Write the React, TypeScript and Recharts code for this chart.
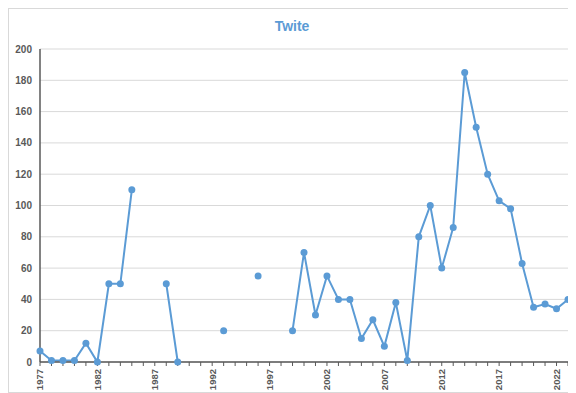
import { LineChart, Line, XAxis, YAxis, CartesianGrid } from 'recharts';

const years = [
  1977, 1978, 1979, 1980, 1981, 1982, 1983, 1984, 1985, 1986, 1987, 1988,
  1989, 1990, 1991, 1992, 1993, 1994, 1995, 1996, 1997, 1998, 1999, 2000,
  2001, 2002, 2003, 2004, 2005, 2006, 2007, 2008, 2009, 2010, 2011, 2012,
  2013, 2014, 2015, 2016, 2017, 2018, 2019, 2020, 2021, 2022, 2023,
];

const counts: (number | null)[] = [
  7, 1, 1, 1, 12, 0, 50, 50, 110, null, null, 50,
  0, null, null, null, 20, null, null, 55, null, null, 20, 70,
  30, 55, 40, 40, 15, 27, 10, 38, 1, 80, 100, 60,
  86, 185, 150, 120, 103, 98, 63, 35, 37, 34, 40,
];

const yTicks = [0, 20, 40, 60, 80, 100, 120, 140, 160, 180, 200];

const data = years.map((y, i) => ({ year: y, count: counts[i] }));

const YearTick = (props: any) => {
  const { x, y, payload } = props;
  if ((payload.value - 1977) % 5 !== 0) return null;
  return (
    <g transform={`translate(${x},${y})`}>
      <text
        transform="rotate(-90)"
        x={-1}
        y={0}
        dy="0.35em"
        textAnchor="end"
        fontSize={9.5}
        fontWeight={600}
        fill="#595959"
        fontFamily="'Liberation Sans', Arial, sans-serif"
      >
        {payload.value}
      </text>
    </g>
  );
};

export default function App() {
  return (
    <div
      style={{
        position: 'relative',
        width: 566,
        height: 383,
        border: '1px solid #d9d9d9',
        background: '#fff',
        fontFamily: "'Liberation Sans', Arial, sans-serif",
      }}
    >
      <div
        style={{
          position: 'absolute',
          top: 9,
          left: 0,
          width: '100%',
          textAlign: 'center',
          fontSize: 14,
          fontWeight: 700,
          color: '#5B9BD5',
        }}
      >
        Twite
      </div>
      <LineChart
        width={566}
        height={383}
        data={data}
        margin={{ top: 40, right: 7, bottom: 0, left: 0 }}
        style={{ overflow: 'visible' }}
      >
        <CartesianGrid vertical={false} stroke="#d9d9d9" />
        <XAxis
          dataKey="year"
          interval={0}
          tick={<YearTick />}
          tickLine={{ stroke: '#595959' }}
          tickSize={4}
          axisLine={{ stroke: '#595959', strokeWidth: 1.5 }}
          height={30}
        />
        <YAxis
          domain={[0, 200]}
          ticks={yTicks}
          width={31}
          tickLine={false}
          axisLine={{ stroke: '#595959', strokeWidth: 1.5 }}
          tick={{ fontSize: 10, fontWeight: 600, fill: '#595959' }}
          tickMargin={2}
        />
        <Line
          type="linear"
          dataKey="count"
          stroke="#5B9BD5"
          strokeWidth={2}
          dot={{ r: 3.5, fill: '#5B9BD5', stroke: '#5B9BD5', strokeWidth: 0 }}
          connectNulls={false}
          isAnimationActive={false}
        />
      </LineChart>
    </div>
  );
}
